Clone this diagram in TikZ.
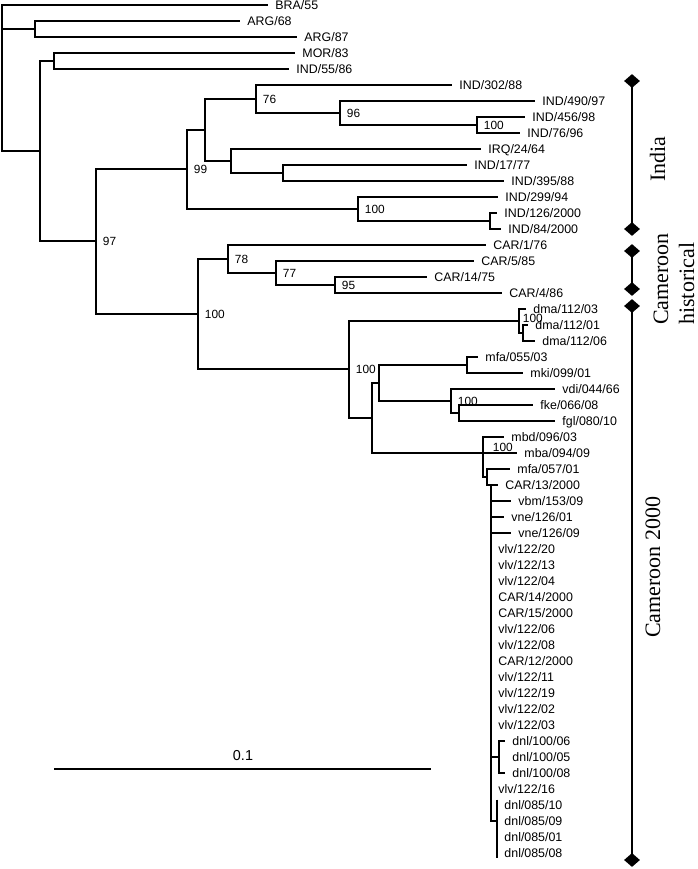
\documentclass[tikz,border=0pt]{standalone}
\usepackage{fontspec}
\setmainfont{Liberation Serif}
\setsansfont{Liberation Sans}
\usetikzlibrary{shapes.geometric}

\tikzset{
  branch/.style={line width=2pt},
  leaf/.style={anchor=west, inner xsep=5.4pt, inner ysep=0pt, text height=6.7pt, text depth=0pt, font=\sffamily\fontsize{9.3}{10}\selectfont},
  boot/.style={anchor=west, inner xsep=5pt, inner ysep=0pt, text height=6.2pt, text depth=0pt, font=\sffamily\fontsize{8.9}{10}\selectfont},
  dia/.style={diamond, fill=black, inner sep=0pt, minimum width=12pt, minimum height=10.5pt},
  tag/.style={rotate=90, anchor=base west, inner sep=0pt, font=\fontsize{16.5}{18}\selectfont},
}

\begin{document}
\begin{tikzpicture}[x=0.75pt, y=-0.75pt]
    \useasboundingbox (0,0) rectangle (698,869);

    % inner nodes
    \coordinate (root) at (2,78);
    \coordinate (nArg) at (35,29);
    \coordinate (nG) at (40,151);
    \coordinate (nMor) at (54,61);
    \coordinate (n97) at (96,241);
    \coordinate (n99) at (187,169);
    \coordinate (nH) at (205,130);
    \coordinate (n76) at (256,99);
    \coordinate (n96) at (340,113);
    \coordinate (n100a) at (477,125);
    \coordinate (nI) at (231,161);
    \coordinate (nJ) at (283,173);
    \coordinate (n100ind) at (358,209);
    \coordinate (nK) at (490,221);
    \coordinate (n100cam) at (198,314);
    \coordinate (n78) at (228,259);
    \coordinate (n77) at (276,273);
    \coordinate (n95) at (335,285);
    \coordinate (n100k) at (349,369);
    \coordinate (nA) at (519,321);
    \coordinate (nB) at (523,333);
    \coordinate (nF) at (372,418);
    \coordinate (nL) at (379,383);
    \coordinate (nM) at (467,365);
    \coordinate (nN) at (451,401);
    \coordinate (nO) at (459,413);
    \coordinate (nC) at (483,453);
    \coordinate (nD) at (487,477);
    \coordinate (nE) at (491,485);
    \coordinate (n100dnl) at (499,757);
    \coordinate (n085) at (497,821);

    % leaves
    \node[leaf] (bra) at (268,5) {BRA/55};
    \node[leaf] (arga) at (240,21) {ARG/68};
    \node[leaf] (argb) at (297,37) {ARG/87};
    \node[leaf] (mor) at (295,53) {MOR/83};
    \node[leaf] (inda) at (289,69) {IND/55/86};
    \node[leaf] (indb) at (452,85) {IND/302/88};
    \node[leaf] (indc) at (535,101) {IND/490/97};
    \node[leaf] (indd) at (525,117) {IND/456/98};
    \node[leaf] (inde) at (520,133) {IND/76/96};
    \node[leaf] (irq) at (481,149) {IRQ/24/64};
    \node[leaf] (indf) at (467,165) {IND/17/77};
    \node[leaf] (indg) at (504,181) {IND/395/88};
    \node[leaf] (indh) at (498,197) {IND/299/94};
    \node[leaf] (indi) at (497,213) {IND/126/2000};
    \node[leaf] (indj) at (501,229) {IND/84/2000};
    \node[leaf] (cara) at (486,245) {CAR/1/76};
    \node[leaf] (carb) at (474,261) {CAR/5/85};
    \node[leaf] (carc) at (427,277) {CAR/14/75};
    \node[leaf] (card) at (502,293) {CAR/4/86};
    \node[leaf] (dmaa) at (526,309) {dma/112/03};
    \node[leaf] (dmab) at (528,325) {dma/112/01};
    \node[leaf] (dmac) at (535,341) {dma/112/06};
    \node[leaf] (mfaa) at (478,357) {mfa/055/03};
    \node[leaf] (mki) at (523,373) {mki/099/01};
    \node[leaf] (vdi) at (555,389) {vdi/044/66};
    \node[leaf] (fke) at (533,405) {fke/066/08};
    \node[leaf] (fgl) at (555,421) {fgl/080/10};
    \node[leaf] (mbd) at (504,437) {mbd/096/03};
    \node[leaf] (mba) at (517,453) {mba/094/09};
    \node[leaf] (mfab) at (510,469) {mfa/057/01};
    \node[leaf] (carf) at (498,485) {CAR/13/2000};
    \node[leaf] (vbm) at (511,501) {vbm/153/09};
    \node[leaf] (vnea) at (504,517) {vne/126/01};
    \node[leaf] (vneb) at (511,533) {vne/126/09};
    \node[leaf] (vlv20) at (491,549) {vlv/122/20};
    \node[leaf] (vlv13) at (491,565) {vlv/122/13};
    \node[leaf] (vlv04) at (491,581) {vlv/122/04};
    \node[leaf] (car14) at (491,597) {CAR/14/2000};
    \node[leaf] (car15) at (491,613) {CAR/15/2000};
    \node[leaf] (vlv06) at (491,629) {vlv/122/06};
    \node[leaf] (vlv08) at (491,645) {vlv/122/08};
    \node[leaf] (car12) at (491,661) {CAR/12/2000};
    \node[leaf] (vlv11) at (491,677) {vlv/122/11};
    \node[leaf] (vlv19) at (491,693) {vlv/122/19};
    \node[leaf] (vlv02) at (491,709) {vlv/122/02};
    \node[leaf] (vlv03) at (491,725) {vlv/122/03};
    \node[leaf] (dnla) at (505,741) {dnl/100/06};
    \node[leaf] (dnlb) at (505,757) {dnl/100/05};
    \node[leaf] (dnlc) at (505,773) {dnl/100/08};
    \node[leaf] (vlv16) at (491,789) {vlv/122/16};
    \node[leaf] (dnlk) at (497,805) {dnl/085/10};
    \node[leaf] (dnll) at (497,821) {dnl/085/09};
    \node[leaf] (dnlm) at (497,837) {dnl/085/01};
    \node[leaf] (dnln) at (497,853) {dnl/085/08};

    % branches
    \draw[branch] (root) |- (bra.west) (root) |- (nArg) (root) |- (nG);
    \draw[branch] (nArg) |- (arga.west) (nArg) |- (argb.west);
    \draw[branch] (nG) |- (nMor) (nG) |- (n97);
    \draw[branch] (nMor) |- (mor.west) (nMor) |- (inda.west);
    \draw[branch] (n97) |- (n99) (n97) |- (n100cam);
    \draw[branch] (n99) |- (nH) (n99) |- (n100ind);
    \draw[branch] (nH) |- (n76) (nH) |- (nI);
    \draw[branch] (n76) |- (indb.west) (n76) |- (n96);
    \draw[branch] (n96) |- (indc.west) (n96) |- (n100a);
    \draw[branch] (n100a) |- (indd.west) (n100a) |- (inde.west);
    \draw[branch] (nI) |- (irq.west) (nI) |- (nJ);
    \draw[branch] (nJ) |- (indf.west) (nJ) |- (indg.west);
    \draw[branch] (n100ind) |- (indh.west) (n100ind) |- (nK);
    \draw[branch] (nK) |- (indi.west) (nK) |- (indj.west);
    \draw[branch] (n100cam) |- (n78) (n100cam) |- (n100k);
    \draw[branch] (n78) |- (cara.west) (n78) |- (n77);
    \draw[branch] (n77) |- (carb.west) (n77) |- (n95);
    \draw[branch] (n95) |- (carc.west) (n95) |- (card.west);
    \draw[branch] (n100k) |- (nA) (n100k) |- (nF);
    \draw[branch] (nA) |- (dmaa.west) (nA) |- (nB);
    \draw[branch] (nB) |- (dmab.west) (nB) |- (dmac.west);
    \draw[branch] (nF) |- (nL) (nF) |- (nC);
    \draw[branch] (nL) |- (nM) (nL) |- (nN);
    \draw[branch] (nM) |- (mfaa.west) (nM) |- (mki.west);
    \draw[branch] (nN) |- (vdi.west) (nN) |- (nO);
    \draw[branch] (nO) |- (fke.west) (nO) |- (fgl.west);
    \draw[branch] (nC) |- (mbd.west) (nC) |- (mba.west) (nC) |- (nD);
    \draw[branch] (nD) |- (mfab.west) (nD) |- (nE);
    \draw[branch] (nE) |- (carf.west) (nE) |- (vbm.west) (nE) |- (vnea.west)
        (nE) |- (vneb.west) (nE) |- (n100dnl) (nE) |- (n085);
    \draw[branch] (n100dnl) |- (dnla.west) (n100dnl) |- (dnlc.west);
    \draw[branch] ([yshift=4]dnlk.west) -- ([yshift=-4]dnln.west);

    % bootstrap values
    \node[boot] (b97) at (n97) {97};
    \node[boot] (b99) at (n99) {99};
    \node[boot] (b76) at (n76) {76};
    \node[boot] (b96) at (n96) {96};
    \node[boot] (b100a) at (n100a) {100};
    \node[boot] (b100ind) at (n100ind) {100};
    \node[boot] (b100cam) at (n100cam) {100};
    \node[boot] (b78) at (n78) {78};
    \node[boot] (b77) at (n77) {77};
    \node[boot] (b95) at (n95) {95};
    \node[boot] (b100k) at (n100k) {100};
    \node[boot] (b100n) at (nN) {100};
    \node[boot] (b100dma) at ([shift={(-3,-3)}]nA) {100};
    \node[boot] (b100c) at ([shift={(3,-6)}]nC) {100};

    % groups
    \node[dia] (ia) at (632,81) {};
    \node[dia] (ib) at (632,229) {};
    \node[dia] (ha) at (632,251) {};
    \node[dia] (hb) at (632,289) {};
    \node[dia] (ca) at (632,306) {};
    \node[dia] (cb) at (632,860) {};
    \draw[branch] (ia.center) -- (ib.center);
    \draw[branch] (ha.center) -- (hb.center);
    \draw[branch] (ca.center) -- (cb.center);
    \node[tag] (tindia) at (665,182) {India};
    \node[tag] (tcam) at (668,325) {Cameroon};
    \node[tag] (thist) at (694,325) {historical};
    \node[tag] (tc2000) at (660,638) {Cameroon 2000};

    % scale
    \coordinate (sbl) at (54,769);
    \coordinate (sbr) at (431,769);
    \draw[line width=1pt] (sbl) -- (sbr);
    \node[font=\sffamily\fontsize{10.8}{12}\selectfont] (sblab) at (243,756) {0.1};
\end{tikzpicture}
\end{document}
